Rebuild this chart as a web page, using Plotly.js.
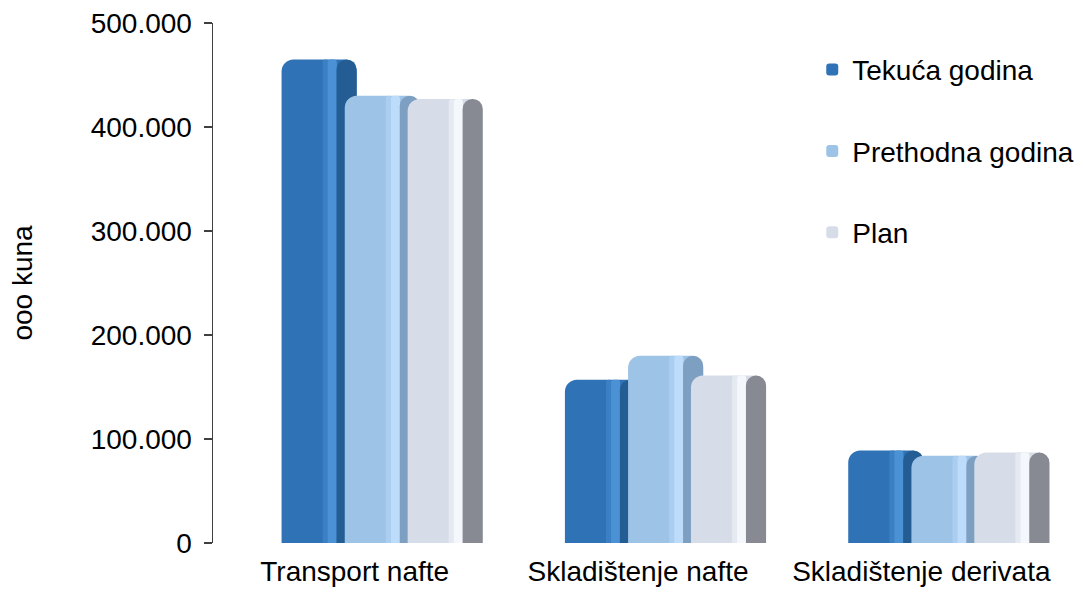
<!DOCTYPE html>
<html>
<head>
<meta charset="utf-8">
<script src="https://cdn.plot.ly/plotly-3.0.1.min.js"></script>
<style>html,body{margin:0;padding:0;background:#fff;}#chart{width:1083px;height:592px;}</style>
</head>
<body>
<div id="chart"></div>
<script>
var categories = ["Transport nafte", "Skladištenje nafte", "Skladištenje derivata"];
var seriesNames = ["Tekuća godina", "Prethodna godina", "Plan"];
var tekucaGodina = [465000, 157000, 89000];
var prethodnaGodina = [430000, 180000, 84000];
var plan = [427000, 161000, 87000];
var yTickVals = [0, 100000, 200000, 300000, 400000, 500000];
var yAxisTitle = "ooo kuna";

var seriesValues = [tekucaGodina, prethodnaGodina, plan];
var styles = [
  {face: "#3072b6", mid: "#3b80c4", hi: "#4b92d4", side: "#245d94", off: -0.258},
  {face: "#9dc3e6", mid: "#abcef0", hi: "#bddcfb", side: "#7d9fc2", off: -0.035},
  {face: "#d7dde8", mid: "#e4e9f2", hi: "#f4f7fc", side: "#878a93", off: 0.187}
];
var W = 0.265;
var traces = [];
seriesValues.forEach(function(vals, i){
  var s = styles[i];
  traces.push({type:"bar", x:categories, y:vals, name:seriesNames[i], legendgroup:"g"+i,
    offset:s.off, width:W, marker:{color:s.face, cornerradius:12, line:{width:0}},
    hoverinfo:"skip"});
  traces.push({type:"bar", x:categories, y:vals, showlegend:false, legendgroup:"g"+i,
    offset:s.off+0.145, width:0.022, marker:{color:s.mid, cornerradius:3, line:{width:0}},
    hoverinfo:"skip"});
  traces.push({type:"bar", x:categories, y:vals, showlegend:false, legendgroup:"g"+i,
    offset:s.off+0.163, width:0.032, marker:{color:s.hi, cornerradius:3, line:{width:0}},
    hoverinfo:"skip"});
  traces.push({type:"bar", x:categories, y:vals, showlegend:false, legendgroup:"g"+i,
    offset:s.off+0.194, width:0.071, marker:{color:s.side, cornerradius:12, line:{width:0}},
    hoverinfo:"skip"});
});

var layout = {
  width:1083, height:592,
  margin:{l:213, r:20, t:23, b:49, autoexpand:false},
  paper_bgcolor:"#fff", plot_bgcolor:"#fff",
  separators:",.",
  barmode:"overlay",
  font:{family:"Liberation Sans, Arial, sans-serif", size:28, color:"#000"},
  showlegend:true,
  legend:{x:0.705, y:0.958, xanchor:"left", yanchor:"top", bgcolor:"rgba(0,0,0,0)",
    font:{size:28, color:"#000"}, tracegroupgap:42, traceorder:"grouped", itemwidth:30},
  xaxis:{type:"category", range:[-0.5, 2.5], showline:false, ticks:"", showgrid:false,
    zeroline:false, tickfont:{size:28}, ticklabelstandoff:9},
  yaxis:{range:[0, 500000], tickvals:yTickVals, tickformat:",d", showgrid:false, zeroline:false,
    showline:true, linecolor:"#404040", linewidth:1.5, ticks:"outside", ticklen:8, tickcolor:"#404040",
    tickwidth:1.5, tickfont:{size:28}, ticklabelstandoff:6,
    title:{text:yAxisTitle, font:{size:28}, standoff:50}}
};
Plotly.newPlot("chart", traces, layout, {displayModeBar:false, staticPlot:true});
</script>
</body>
</html>
